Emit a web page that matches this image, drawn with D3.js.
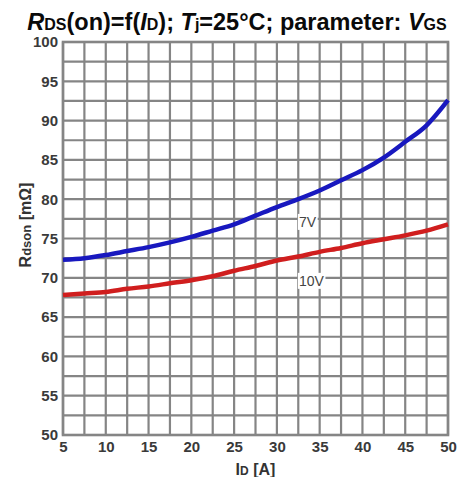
<!DOCTYPE html>
<html>
<head>
<meta charset="utf-8">
<script src="https://cdn.jsdelivr.net/npm/d3@7"></script>
<style>
  body { margin: 0; background: #fff; }
  text { font-family: Arial, "Liberation Sans", sans-serif; }
</style>
</head>
<body>
<svg id="chart" width="466" height="477"></svg>
<script>
// drain current (A) where the curves were read
var current = [5, 7.5, 10, 12.5, 15, 17.5, 20, 22.5, 25, 27.5, 30, 32.5, 35, 37.5, 40, 42.5, 45, 47.5, 50];

// Rdson in mOhm, VGS = 7V and 10V
var rds7V = [72.3, 72.5, 72.9, 73.4, 73.9, 74.5, 75.2, 76.0, 76.8, 77.9, 79.0, 80.0, 81.1, 82.4, 83.7, 85.3, 87.3, 89.4, 92.6];
var rds10V = [67.8, 68.0, 68.2, 68.6, 68.9, 69.3, 69.7, 70.2, 70.9, 71.5, 72.2, 72.7, 73.3, 73.8, 74.4, 74.9, 75.4, 76.0, 76.8];

// tick labels
var xTicks = [5, 10, 15, 20, 25, 30, 35, 40, 45, 50];
var yTicks = [50, 55, 60, 65, 70, 75, 80, 85, 90, 95, 100];

// curve names and where their labels sit (current value)
var seriesNames = ["7V", "10V"];
var labelAt = [30, 30];

var width = 466,
    height = 477,
    margin = {top: 42, right: 18, bottom: 42, left: 63};

var svg = d3.select("#chart");

var x = d3.scaleLinear()
    .domain([5, 50])
    .range([margin.left, width - margin.right]);

var y = d3.scaleLinear()
    .domain([50, 100])
    .range([height - margin.bottom, margin.top]);

var gridColor = "#858585";

// grid, every 2.5 on both axes
var gx = d3.range(5, 50.01, 2.5);
var gy = d3.range(50, 100.01, 2.5);

svg.append("g")
  .selectAll("line")
  .data(gx).enter()
  .append("line")
  .attr("x1", function(d) { return x(d); })
  .attr("x2", function(d) { return x(d); })
  .attr("y1", y(50))
  .attr("y2", y(100))
  .style("stroke", gridColor)
  .style("stroke-width", 2.2);

svg.append("g")
  .selectAll("line")
  .data(gy).enter()
  .append("line")
  .attr("x1", x(5))
  .attr("x2", x(50))
  .attr("y1", function(d) { return y(d); })
  .attr("y2", function(d) { return y(d); })
  .style("stroke", gridColor)
  .style("stroke-width", 2.2);

svg.append("rect")
  .attr("x", x(5))
  .attr("y", y(100))
  .attr("width", x(50) - x(5))
  .attr("height", y(50) - y(100))
  .style("fill", "none")
  .style("stroke", gridColor)
  .style("stroke-width", 2.6);

// axes, only used for the labels
var xAxis = d3.axisBottom(x).tickValues(xTicks).tickSize(0).tickPadding(6);
var yAxis = d3.axisLeft(y).tickValues(yTicks).tickSize(0).tickPadding(5);

svg.append("g")
  .attr("class", "xaxis")
  .attr("transform", "translate(0," + y(50) + ")")
  .call(xAxis);

svg.append("g")
  .attr("class", "yaxis")
  .attr("transform", "translate(" + x(5) + ",0)")
  .call(yAxis);

svg.selectAll(".xaxis .domain, .yaxis .domain").remove();
svg.selectAll(".xaxis text, .yaxis text")
  .style("font-size", "15px")
  .style("font-weight", "bold")
  .style("fill", "#3a3a3a");

// curves
var line = d3.line()
  .x(function(d) { return x(d[0]); })
  .y(function(d) { return y(d[1]); })
  .curve(d3.curveMonotoneX);

var series = [rds7V, rds10V];
var colors = ["#1818bf", "#d01e1e"];

series.forEach(function(s, i) {
  svg.append("path")
    .datum(current.map(function(c, j) { return [c, s[j]]; }))
    .attr("d", line)
    .style("fill", "none")
    .style("stroke", colors[i])
    .style("stroke-width", 4.5)
    .style("stroke-linecap", "butt");
});

// curve labels with white box under them
var labelOffset = [-1.9, -2.6];
seriesNames.forEach(function(name, i) {
  var idx = current.indexOf(labelAt[i]);
  var ly = y(series[i][idx] + labelOffset[i]);
  var g = svg.append("g");
  var t = g.append("text")
    .attr("x", x(labelAt[i]) + 22)
    .attr("y", ly)
    .attr("dy", "0.35em")
    .style("font-size", "14px")
    .style("fill", "#444")
    .text(name);
  var b = t.node().getBBox();
  g.insert("rect", "text")
    .attr("x", b.x - 1)
    .attr("y", b.y)
    .attr("width", b.width + 2)
    .attr("height", b.height)
    .style("fill", "#fff");
});

// title
var title = svg.append("text")
  .attr("x", 237)
  .attr("y", 30)
  .attr("text-anchor", "middle")
  .style("font-size", "23.5px")
  .style("font-weight", "bold")
  .style("fill", "#0a0a0a");

title.append("tspan").style("font-style", "italic").text("R");
title.append("tspan").style("font-size", "16px").text("DS");
title.append("tspan").text("(on)=f(");
title.append("tspan").style("font-style", "italic").text("I");
title.append("tspan").style("font-size", "16px").text("D");
title.append("tspan").text("); ");
title.append("tspan").style("font-style", "italic").text("T");
title.append("tspan").style("font-size", "16px").text("j");
title.append("tspan").text("=25°C; parameter: ");
title.append("tspan").style("font-style", "italic").text("V");
title.append("tspan").style("font-size", "16px").text("GS");

// axis titles
var xTitle = svg.append("text")
  .attr("x", (x(5) + x(50)) / 2)
  .attr("y", 475)
  .attr("text-anchor", "middle")
  .style("font-size", "16px")
  .style("font-weight", "bold")
  .style("fill", "#333");
xTitle.append("tspan").text("I");
xTitle.append("tspan").style("font-size", "12px").text("D");
xTitle.append("tspan").text(" [A]");

var yTitle = svg.append("text")
  .attr("transform", "translate(31,225) rotate(-90)")
  .attr("text-anchor", "middle")
  .style("font-size", "16px")
  .style("font-weight", "bold")
  .style("fill", "#333");
yTitle.append("tspan").text("R");
yTitle.append("tspan").style("font-size", "13px").text("dson");
yTitle.append("tspan").text(" [mΩ]");
</script>
</body>
</html>
